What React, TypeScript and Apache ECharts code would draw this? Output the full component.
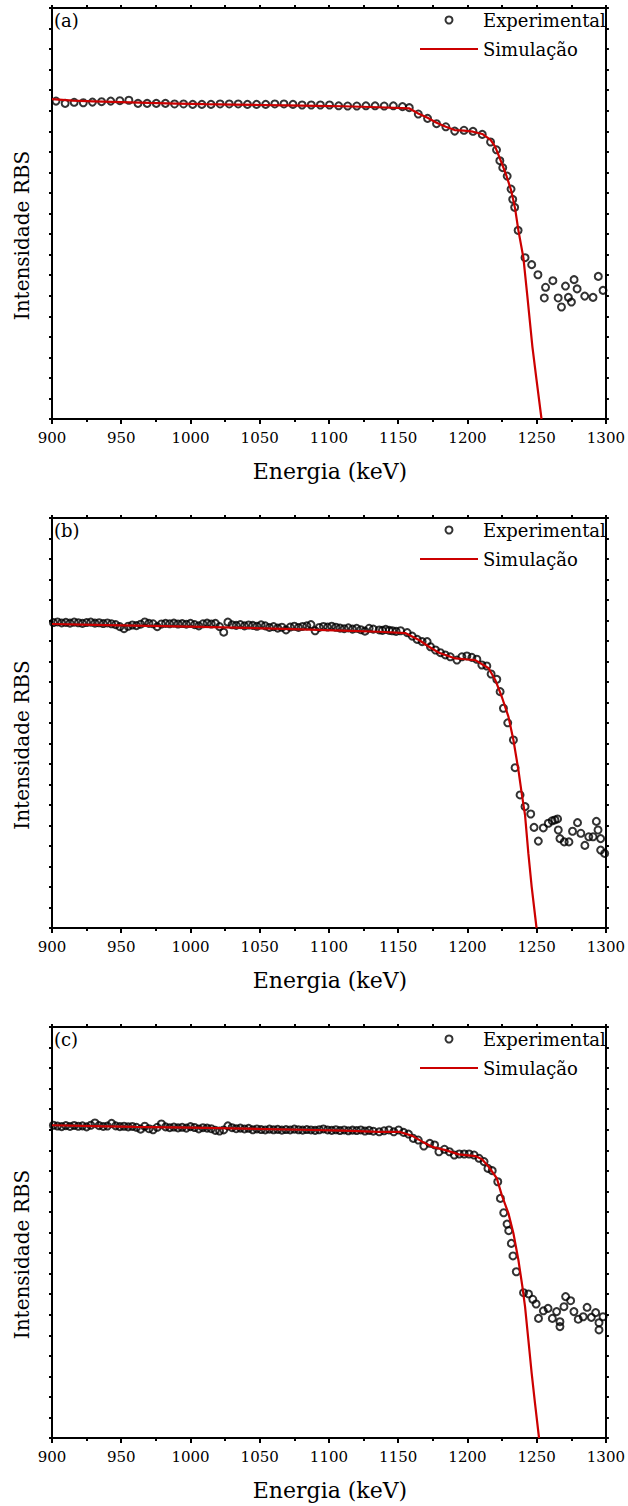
import React, { useEffect, useRef } from "react";
import * as echarts from "echarts";

// ---- Panel (a) ----
const expEnergyA = [
  902.9, 909.5, 916.0, 922.6, 929.2, 935.8, 942.4, 949.0, 955.5, 962.1, 968.7, 975.3, 981.9, 988.5,
  995.0, 1001.6, 1008.2, 1014.8, 1021.4, 1028.0, 1034.5, 1041.1, 1047.7, 1054.3, 1060.9, 1067.5,
  1074.0, 1080.6, 1087.2, 1093.8, 1100.4, 1107.0, 1113.5, 1120.1, 1126.7, 1133.3, 1139.9, 1146.5,
  1153.1, 1158.0, 1164.5, 1171.2, 1177.7, 1184.4, 1190.8, 1197.5, 1204.0, 1210.7, 1216.7, 1221.0,
  1223.4, 1225.5, 1228.7, 1231.5, 1232.7, 1234.1, 1236.6, 1241.6, 1246.4, 1250.9, 1255.5, 1256.4,
  1261.7, 1265.5, 1267.9, 1270.8, 1272.9, 1275.1, 1277.0, 1279.2, 1284.7, 1290.7, 1294.5, 1297.9,
];
const expCountsA = [
  1547, 1536, 1541, 1539, 1542, 1544, 1547, 1549, 1551, 1536, 1536, 1536, 1536, 1533,
  1533, 1531, 1531, 1531, 1533, 1533, 1533, 1531, 1531, 1531, 1533, 1533,
  1531, 1528, 1528, 1528, 1528, 1524, 1523, 1523, 1524, 1524, 1523, 1524,
  1520, 1515, 1484, 1463, 1437, 1422, 1401, 1405, 1400, 1385, 1348, 1310,
  1257, 1223, 1182, 1119, 1069, 1030, 918, 785, 751, 702, 589, 641,
  673, 589, 545, 647, 592, 569, 678, 633, 598, 592, 694, 626,
];
const simEnergyA = [
  900, 915, 930, 950, 970, 990, 1010, 1030, 1050, 1070, 1090, 1110, 1136, 1157.8, 1164.5, 1171.2,
  1177.7, 1184.4, 1190.8, 1197.5, 1204, 1210.7, 1216.7, 1220, 1222.4, 1225.3, 1228.4, 1231.5,
  1234.4, 1236.8, 1240.4, 1243.3, 1246.9, 1249.9, 1253.5,
];
const simCountsA = [
  1557, 1549, 1546, 1542, 1538, 1535, 1532, 1530, 1528, 1526, 1524, 1522, 1517, 1512, 1487, 1466,
  1442, 1422, 1406, 1403, 1398, 1387, 1358, 1325, 1285, 1236, 1179, 1114,
  1025, 918, 785, 595, 352, 190, 0,
];

// ---- Panel (b) ----
const expEnergyB = [
  901, 904, 907, 910, 913, 916, 919, 922, 925, 928, 931, 934, 937, 940, 943, 946, 949, 952, 955, 958,
  961, 964, 967, 970, 973, 976, 979, 982, 985, 988, 991, 994, 997, 1000, 1003, 1006, 1009, 1012, 1015,
  1018, 1021, 1024, 1027, 1030, 1033, 1036, 1039, 1042, 1045, 1048, 1051, 1054, 1057, 1060, 1063, 1066,
  1069, 1072, 1075, 1078, 1081, 1084, 1087, 1090, 1093, 1096, 1099, 1102, 1105, 1108, 1111, 1114, 1117,
  1120, 1123, 1126, 1129, 1132,
  1136.3, 1138.6, 1141, 1143.5, 1145.8, 1148.5, 1151.7, 1156.5, 1160.1, 1163.7, 1167.3, 1170.9, 1173.3,
  1176.9, 1180.5, 1184, 1187.6, 1192.4, 1196, 1199.6, 1203.2, 1206.8, 1210.4, 1214, 1217.1, 1221.2,
  1223.6, 1226, 1229.1, 1233.2, 1234.4, 1238, 1241.6, 1245.7, 1248.1, 1251.2, 1254.8, 1258.4, 1261.2,
  1263.2, 1265.1, 1265.6, 1266.8, 1269.9, 1273.3, 1275.9, 1279.5, 1281.9, 1284.8, 1287.6, 1290.7,
  1293.1, 1294.3, 1296.2, 1296.2, 1299.1,
];
const expCountsB = [
  1490, 1493, 1488, 1491, 1487, 1492, 1489, 1486, 1490, 1492, 1487, 1489, 1485, 1488, 1484, 1480, 1470, 1460, 1472, 1478,
  1475, 1482, 1493, 1486, 1484, 1470, 1483, 1486, 1484, 1487, 1483, 1485, 1482, 1486, 1480, 1474, 1484, 1487, 1483,
  1486, 1470, 1443, 1492, 1479, 1476, 1480, 1474, 1478, 1476, 1472, 1479, 1474, 1466, 1470, 1463, 1467,
  1454, 1468, 1472, 1466, 1471, 1474, 1480, 1450, 1466, 1471, 1468, 1472, 1467, 1463, 1460, 1464, 1458,
  1462, 1455, 1448, 1462, 1458,
  1454, 1452, 1457, 1452, 1450, 1447, 1450, 1441, 1424, 1408, 1397, 1397, 1372,
  1356, 1343, 1332, 1323, 1307, 1323, 1327, 1320, 1311, 1283, 1278, 1239, 1213,
  1153, 1072, 1001, 917, 782, 649, 592, 556, 491, 424, 488, 511, 523,
  527, 532, 478, 436, 420, 420, 472, 514, 462, 403, 445, 445,
  520, 478, 436, 380, 364,
];
const simEnergyB = [
  900, 930, 960, 1000, 1040, 1080, 1110, 1136.3, 1155.4, 1165, 1172.2, 1179.4, 1191.3, 1198.5,
  1205.7, 1215.3, 1220.1, 1224.8, 1229.6, 1233.2, 1236.8, 1239.2, 1241.6, 1244, 1246.4, 1249.9,
];
const simCountsB = [
  1483, 1479, 1475, 1470, 1464, 1457, 1451, 1445, 1438, 1405, 1372, 1343, 1315, 1311,
  1307, 1267, 1210, 1128, 1031, 917, 771, 657, 551, 364, 201, 0,
];

// ---- Panel (c) ----
const expEnergyC = [
  901, 904, 907, 910, 913, 916, 919, 922, 925, 928, 931, 934, 937, 940, 943, 946, 949, 952, 955, 958,
  961, 964, 967, 970, 973, 976, 979, 982, 985, 988, 991, 994, 997, 1000, 1003, 1006, 1009, 1012, 1015,
  1018, 1021, 1024, 1027, 1030, 1033, 1036, 1039, 1042, 1045, 1048, 1051, 1054, 1057, 1060, 1063, 1066,
  1069, 1072, 1075, 1078, 1081, 1084, 1087, 1090, 1093, 1096, 1099, 1102, 1105, 1108, 1111, 1114, 1117,
  1120, 1123, 1126, 1129, 1132,
  1136.3, 1139.8, 1143.3, 1146.8, 1150.3, 1153.9, 1157.4, 1160.9, 1164.5, 1168.5, 1172.8, 1176.3, 1179.4,
  1183.4, 1187, 1190.5, 1194.1, 1197.7, 1201.2, 1204.8, 1208.4, 1212, 1214.8, 1217.9, 1221.9, 1223.8,
  1226.2, 1228.6, 1229.8, 1231.7, 1232.9, 1235.3, 1240.5, 1244.1, 1247.2, 1249.6, 1251.3, 1254.8, 1258.2,
  1261.3, 1264.4, 1266.8, 1266.8, 1269.7, 1270.9, 1274.5, 1276.9, 1280, 1283.6, 1286.4, 1289.5, 1292.6,
  1295, 1295, 1297.9,
];
const expCountsC = [
  1522, 1518, 1515, 1520, 1516, 1521, 1517, 1519, 1514, 1522, 1533, 1520, 1516, 1518, 1531, 1519, 1515, 1517, 1514, 1516,
  1512, 1503, 1517, 1505, 1500, 1512, 1528, 1514, 1510, 1513, 1509, 1512, 1508, 1515, 1511, 1504, 1510, 1508, 1505,
  1497, 1494, 1499, 1519, 1510, 1505, 1508, 1504, 1507, 1500, 1504, 1501, 1499, 1503, 1500, 1502, 1498,
  1501, 1499, 1503, 1500, 1498, 1501, 1499, 1497, 1500, 1504, 1499, 1497, 1500, 1496, 1499, 1495, 1498,
  1496, 1499, 1494, 1497, 1493,
  1490, 1495, 1499, 1490, 1499, 1487, 1479, 1458, 1450, 1421, 1434, 1426, 1393,
  1405, 1393, 1377, 1382, 1382, 1382, 1377, 1361, 1345, 1312, 1301, 1247, 1166,
  1096, 1041, 1009, 947, 886, 809, 707, 701, 675, 652, 582, 619, 631,
  582, 615, 566, 542, 639, 688, 668, 615, 578, 590, 636, 587, 610,
  561, 526, 590,
];
const simEnergyC = [
  900, 930, 960, 1000, 1040, 1080, 1110, 1136.3, 1150.6, 1160.2, 1167.4, 1174.5, 1184.2, 1193.7,
  1205.7, 1210.5, 1215.3, 1221.2, 1224.8, 1229.6, 1233.2, 1236.8, 1239.7, 1241.6, 1244, 1246.4,
  1248.8, 1251.7,
];
const simCountsC = [
  1522, 1518, 1514, 1510, 1505, 1500, 1496, 1490, 1490, 1470, 1442, 1417, 1401, 1380,
  1372, 1356, 1320, 1264, 1182, 1093, 996, 866, 736, 639, 477, 315,
  169, 0,
];

const panelTags = ["(a)", "(b)", "(c)"];
const energyTicks = { min: 900, max: 1300, step: 50 };
const countRange = { min: 0, max: 2000, step: 100 };

const FONT = "DejaVu Serif";
const INK = "#000";
const RED = "#cc0000";

const zip = (xs: number[], ys: number[]) => xs.map((x, i) => [x, ys[i]]);

const panels = [
  { tag: panelTags[0], exp: zip(expEnergyA, expCountsA), sim: zip(simEnergyA, simCountsA), top: 8, height: 411 },
  { tag: panelTags[1], exp: zip(expEnergyB, expCountsB), sim: zip(simEnergyB, simCountsB), top: 518, height: 410 },
  { tag: panelTags[2], exp: zip(expEnergyC, expCountsC), sim: zip(simEnergyC, simCountsC), top: 1027, height: 411 },
];

const PLOT_LEFT = 52;
const PLOT_WIDTH = 556;

function buildOption(): echarts.EChartsOption {
  const axisLine = { show: true, onZero: false, lineStyle: { color: INK, width: 2 } };
  const grid: any[] = [];
  const xAxis: any[] = [];
  const yAxis: any[] = [];
  const series: any[] = [];
  const legend: any[] = [];
  const graphic: any[] = [];

  panels.forEach((p, i) => {
    grid.push({ left: PLOT_LEFT, top: p.top, width: PLOT_WIDTH, height: p.height });

    // bottom energy axis with labels
    xAxis.push({
      type: "value",
      gridIndex: i,
      position: "bottom",
      min: energyTicks.min,
      max: energyTicks.max,
      interval: energyTicks.step,
      axisLine,
      axisTick: { show: true, inside: false, length: 5, lineStyle: { color: INK, width: 2 } },
      minorTick: { show: true, splitNumber: 2, length: 3, lineStyle: { color: INK, width: 2 } },
      axisLabel: {
        show: true,
        margin: 11,
        color: INK,
        fontFamily: FONT,
        fontSize: 15,
        formatter: (v: number) => String(v),
      },
      splitLine: { show: false },
      minorSplitLine: { show: false },
    });
    // top frame axis
    xAxis.push({
      type: "value",
      gridIndex: i,
      position: "top",
      min: energyTicks.min,
      max: energyTicks.max,
      interval: energyTicks.step / 2,
      axisLine,
      axisTick: { show: true, inside: false, length: 3, lineStyle: { color: INK, width: 2 } },
      axisLabel: { show: false },
      splitLine: { show: false },
    });
    // left and right frame axes, unlabeled intensity
    ["left", "right"].forEach((pos) => {
      yAxis.push({
        type: "value",
        gridIndex: i,
        position: pos,
        min: countRange.min,
        max: countRange.max,
        interval: countRange.step,
        axisLine,
        axisTick: { show: true, inside: false, length: 3, lineStyle: { color: INK, width: 2 } },
        axisLabel: { show: false },
        splitLine: { show: false },
      });
    });

    series.push({
      type: "scatter",
      name: "Experimental",
      xAxisIndex: 2 * i,
      yAxisIndex: 2 * i,
      data: p.exp,
      symbol: "circle",
      symbolSize: 7,
      itemStyle: { color: "rgba(255,255,255,0)", borderColor: INK, borderWidth: 2 },
      z: 2,
    });
    series.push({
      type: "line",
      name: "Simulação",
      xAxisIndex: 2 * i,
      yAxisIndex: 2 * i,
      data: p.sim,
      symbol: "none",
      showSymbol: false,
      lineStyle: { color: RED, width: 2.2 },
      itemStyle: { color: RED },
      z: 3,
    });

    legend.push({
      orient: "vertical",
      left: 419,
      top: p.top + 2,
      padding: 0,
      itemWidth: 58,
      itemHeight: 7,
      itemGap: 9,
      selectedMode: false,
      data: [
        { name: "Experimental" },
        { name: "Simulação", itemStyle: { opacity: 0 } },
      ],
      textStyle: { color: INK, fontFamily: FONT, fontSize: 18, lineHeight: 20 },
    });

    graphic.push({
      type: "text",
      x: PLOT_LEFT + 2,
      y: p.top + 12,
      style: { text: p.tag, fill: INK, font: `18px "${FONT}"`, align: "left", verticalAlign: "middle" },
    });
    graphic.push({
      type: "text",
      x: 22,
      y: p.top + p.height / 2 + 22,
      rotation: Math.PI / 2,
      style: { text: "Intensidade RBS", fill: INK, font: `20px "${FONT}"`, align: "center", verticalAlign: "middle" },
    });
    graphic.push({
      type: "text",
      x: PLOT_LEFT + PLOT_WIDTH / 2,
      y: p.top + p.height + 52,
      style: { text: "Energia (keV)", fill: INK, font: `22px "${FONT}"`, align: "center", verticalAlign: "middle" },
    });
  });

  return {
    animation: false,
    backgroundColor: "#fff",
    grid,
    xAxis,
    yAxis,
    legend,
    series,
    graphic,
  };
}

export default function App() {
  const ref = useRef<HTMLDivElement>(null);
  useEffect(() => {
    if (!ref.current) return;
    const chart = echarts.init(ref.current, undefined, { renderer: "svg" });
    chart.setOption(buildOption());
    return () => chart.dispose();
  }, []);
  return (
    <div
      ref={ref}
      style={{ position: "absolute", left: 0, top: 0, width: 628, height: 1506, background: "#fff" }}
    />
  );
}
